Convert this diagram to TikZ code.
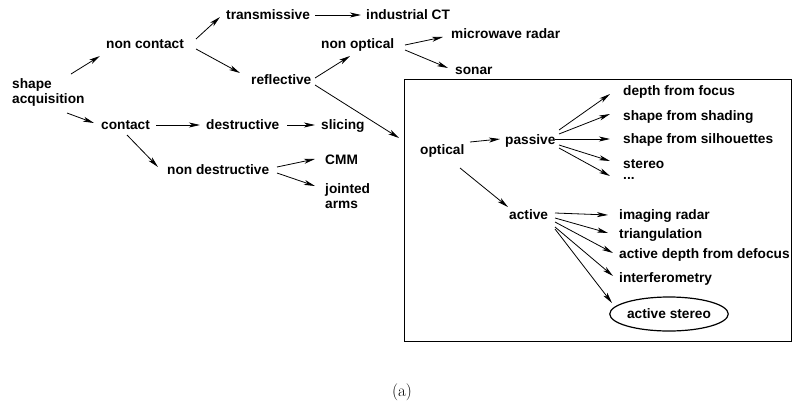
\documentclass[tikz,border=0pt]{standalone}
\usepackage{fontspec}
\newfontfamily\hv{Liberation Sans}
\usetikzlibrary{arrows.meta,shapes.geometric}
\tikzset{
  lbl/.style={font=\hv\bfseries\fontsize{13.7}{15}\selectfont, inner sep=0pt, anchor=west, text height=9.5pt, text depth=0.5pt},
  lbl2/.style={font=\hv\bfseries\fontsize{13.7}{15}\selectfont, inner sep=0pt, anchor=west, align=left},
  arr/.style={line width=0.8pt, -{Stealth[length=11pt,width=5pt,inset=3pt]}},
  frame/.style={line width=1pt},
  oval/.style={draw, ellipse, line width=1.2pt, minimum width=108pt, minimum height=34pt, inner sep=0pt,
    font=\hv\bfseries\fontsize{13.7}{15}\selectfont}
}
\begin{document}
\begin{tikzpicture}[x=1pt,y=-1pt]
\useasboundingbox (0,0) rectangle (792,407);
% frame
\draw[frame] (404,79) rectangle (791,341);
% nodes
\node[lbl2] (sa) at (12,92) {shape\\acquisition};
\node[lbl] (nc) at (106,44) {non contact};
\node[lbl] (ct) at (101,125) {contact};
\node[lbl] (tr) at (226,15) {transmissive};
\node[lbl] (rf) at (251,80) {reflective};
\node[lbl] (no) at (321,44) {non optical};
\node[lbl] (ds) at (206,125) {destructive};
\node[lbl] (sl) at (321,125) {slicing};
\node[lbl] (nd) at (167,170) {non destructive};
\node[lbl] (cmm) at (325,160) {CMM};
\node[lbl2] (ja) at (325,196.5) {jointed\\arms};
\node[lbl] (ict) at (366,15) {industrial CT};
\node[lbl] (mr) at (451,34) {microwave radar};
\node[lbl] (so) at (455,70) {sonar};
\node[lbl] (op) at (420,150) {optical};
\node[lbl] (pa) at (505,140) {passive};
\node[lbl] (ac) at (509,215) {active};
\node[lbl] (p1) at (623,91) {depth from focus};
\node[lbl] (p2) at (623,116) {shape from shading};
\node[lbl] (p3) at (623,139) {shape from silhouettes};
\node[lbl] (p4) at (623,164) {stereo};
\node[lbl] (p5) at (623,175) {...};
\node[lbl] (a1) at (619,215) {imaging radar};
\node[lbl] (a2) at (619,234) {triangulation};
\node[lbl] (a3) at (619,254) {active depth from defocus};
\node[lbl] (a4) at (619,278) {interferometry};
\node[oval] (a5) at (669,314) {active stereo};
\node[font=\fontsize{17}{20}\selectfont, inner sep=0pt] (cap) at (402,392) {(a)};
% connectors
\draw[arr] ([shift={(59,-18)}]sa.west) -- ([shift={(-6,12)}]nc.west);
\draw[arr] ([shift={(55,21)}]sa.west) -- ([shift={(-7,-2)}]ct.west);
\draw[arr] ([shift={(90,-5)}]nc.west) -- ([shift={(-6,2)}]tr.west);
\draw[arr] ([shift={(90,5)}]nc.west) -- ([shift={(-11,-7)}]rf.west);
\draw[arr] ([shift={(89,0)}]tr.west) -- ([shift={(-5,0)}]ict.west);
\draw[arr] ([shift={(64,-2)}]rf.west) -- ([shift={(29,12)}]no.west);
\draw[arr] ([shift={(64,5)}]rf.west) -- ([shift={(-21,-12)}]op.west);
\draw[arr] ([shift={(55,0)}]ct.west) -- ([shift={(-6,0)}]ds.west);
\draw[arr] ([shift={(81,0)}]ds.west) -- ([shift={(-6,0)}]sl.west);
\draw[arr] ([shift={(26,10)}]ct.west) -- ([shift={(-9,-3)}]nd.west);
\draw[arr] ([shift={(110,-3)}]nd.west) -- ([shift={(-10,-1)}]cmm.west);
\draw[arr] ([shift={(110,3)}]nd.west) -- ([shift={(-10,-10.5)}]ja.west);
\draw[arr] ([shift={(84,1)}]no.west) -- ([shift={(-8,3)}]mr.west);
\draw[arr] ([shift={(84,6)}]no.west) -- ([shift={(-7,-2)}]so.west);
\draw[arr] ([shift={(50,-8)}]op.west) -- ([shift={(-5,-1)}]pa.west);
\draw[arr] ([shift={(40,18)}]op.west) -- ([shift={(-1,-8)}]ac.west);
\draw[arr] ([shift={(54,-10)}]pa.west) -- ([shift={(-13,3)}]p1.west);
\draw[arr] ([shift={(54,-6)}]pa.west) -- ([shift={(-13,-2)}]p2.west);
\draw[arr] ([shift={(50,-1)}]pa.west) -- ([shift={(-13,0)}]p3.west);
\draw[arr] ([shift={(54,5)}]pa.west) -- ([shift={(-13,-3)}]p4.west);
\draw[arr] ([shift={(54,8)}]pa.west) -- ([shift={(-13,1)}]p5.west);
\draw[arr] ([shift={(46,-2)}]ac.west) -- ([shift={(-11,0)}]a1.west);
\draw[arr] ([shift={(46,3)}]ac.west) -- ([shift={(-11,-1)}]a2.west);
\draw[arr] ([shift={(46,7)}]ac.west) -- ([shift={(-6,-1)}]a3.west);
\draw[arr] ([shift={(46,12)}]ac.west) -- ([shift={(-6,-2)}]a4.west);
\draw[arr] ([shift={(46,14)}]ac.west) -- ([shift={(-57,-11)}]a5.center);
\end{tikzpicture}
\end{document}
